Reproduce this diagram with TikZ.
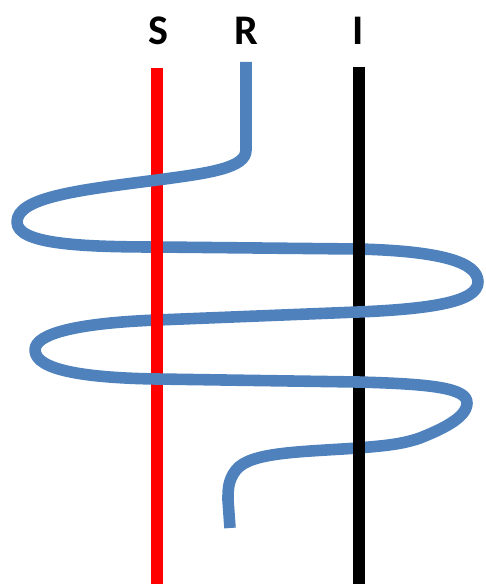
\documentclass[tikz,border=0pt]{standalone}
\usepackage{fontspec}
\setmainfont{Carlito}
\usepackage{xcolor}
\usepackage{tikz}
\usetikzlibrary{positioning}
\definecolor{strandblue}{RGB}{79,129,189}

\begin{document}
\begin{tikzpicture}[
    x=0.02cm, y=-0.02cm,
    label/.style={font=\fontsize{24}{28}\selectfont\bfseries, inner sep=0pt},
    sline/.style={line width=6.6pt, red},
    iline/.style={line width=6.4pt, black},
    strand/.style={line width=6.6pt, strandblue, line join=round},
]
\useasboundingbox (0,0) rectangle (485,584);

% Labels
\node[label] (S) at (158,31) {S};
\node[label] (R) at (246,31) {R};
\node[label] (I) at (358,31) {I};

% Vertical lines
\coordinate (stop) at (157,68);
\coordinate (sbot) at (157,584);
\coordinate (itop) at (359,67);
\coordinate (ibot) at (359,584);
\draw[sline] (stop) -- (sbot);
\draw[iline] (itop) -- (ibot);

% Winding strand
\draw[strand] (246,62) -- (246,150)
    .. controls (246,168) and (210,173) .. (157,180)
    .. controls (80,190) and (17,197) .. (17,222)
    .. controls (17,244) and (80,247) .. (157,247)
    -- (358,249)
    .. controls (440,251) and (478,262) .. (478,282)
    .. controls (478,302) and (430,309) .. (358,312)
    -- (157,320)
    .. controls (80,323) and (35,333) .. (35,350)
    .. controls (35,371) and (90,378) .. (157,379)
    -- (358,382)
    .. controls (432,384) and (467,388) .. (467,403)
    .. controls (467,418) and (440,430) .. (420,438)
    .. controls (400,445) and (380,446) .. (358,448)
    .. controls (300,452) and (250,452) .. (236,470)
    .. controls (228,480) and (228,490) .. (228,500)
    -- (230,528);

% Crossings where the lines pass over the strand
\draw[sline] (157,230) -- (157,264);
\draw[sline] (157,302) -- (157,336);
\draw[iline] (359,232) -- (359,266);
\draw[iline] (359,431) -- (359,465);
\end{tikzpicture}
\end{document}
